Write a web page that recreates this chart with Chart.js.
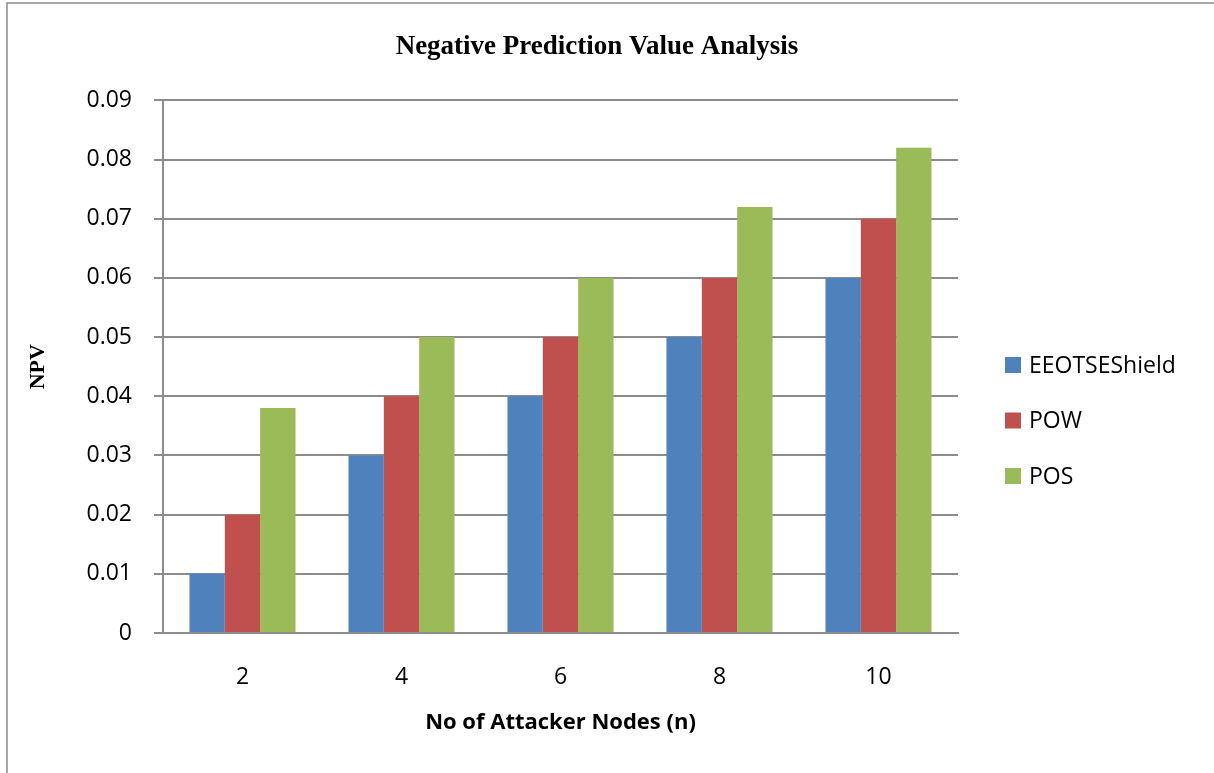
<!DOCTYPE html>
<html>
<head>
<meta charset="utf-8">
<script src="https://cdn.jsdelivr.net/npm/chart.js@4"></script>
<style>
  html, body { margin: 0; padding: 0; background: #fff; }
  #wrap { width: 1214px; height: 773px; }
</style>
</head>
<body>
<div id="wrap"><canvas id="npvChart" width="1214" height="773"></canvas></div>
<script>
var categories = ['2', '4', '6', '8', '10'];
var seriesNames = ['EEOTSEShield', 'POW', 'POS'];
var eeotseShield = [0.01, 0.03, 0.04, 0.05, 0.06];
var pow = [0.02, 0.04, 0.05, 0.06, 0.07];
var pos = [0.038, 0.05, 0.06, 0.072, 0.082];
var yTicks = [0, 0.01, 0.02, 0.03, 0.04, 0.05, 0.06, 0.07, 0.08, 0.09];

var colors = ['#4F81BD', '#C0504D', '#9BBB59'];
var sans = '"Open Sans", sans-serif';
var serif = '"Liberation Serif", "Times New Roman", serif';

// frame + white background
var framePlugin = {
    id: 'frame',
    beforeDraw: function(chart) {
        var c = chart.ctx;
        c.save();
        c.fillStyle = '#fff';
        c.fillRect(0, 0, chart.width, chart.height);
        c.strokeStyle = '#8c8c8c';
        c.lineWidth = 1.5;
        c.beginPath();
        c.moveTo(7, chart.height);
        c.lineTo(7, 3);
        c.lineTo(chart.width, 3);
        c.stroke();
        c.restore();
    }
};

// legend drawn on the right, like the excel one
var sideLegend = {
    id: 'sideLegend',
    afterDraw: function(chart) {
        var c = chart.ctx;
        c.save();
        c.font = '23px ' + sans;
        c.textBaseline = 'middle';
        c.textAlign = 'left';
        chart.data.datasets.forEach(function(ds, i) {
            var y = 365 + i * 55.5;
            c.fillStyle = ds.backgroundColor;
            c.fillRect(1005, y - 8, 16, 16);
            c.fillStyle = '#000';
            c.fillText(ds.label, 1029, y + 1);
        });
        c.restore();
    }
};

var ctx = document.getElementById('npvChart').getContext('2d');
var npvChart = new Chart(ctx, {
    type: 'bar',
    data: {
        labels: categories,
        datasets: [
            { label: seriesNames[0], data: eeotseShield, backgroundColor: colors[0] },
            { label: seriesNames[1], data: pow, backgroundColor: colors[1] },
            { label: seriesNames[2], data: pos, backgroundColor: colors[2] }
        ]
    },
    options: {
        responsive: false,
        animation: false,
        layout: { padding: { left: 0, right: 20, top: 0, bottom: 0 } },
        datasets: {
            bar: { categoryPercentage: 0.667, barPercentage: 1.0 }
        },
        plugins: {
            legend: { display: false },
            tooltip: { enabled: false },
            title: {
                display: true,
                text: 'Negative Prediction Value Analysis',
                color: '#000',
                font: { family: serif, size: 27, weight: 'bold' },
                padding: { top: 31, bottom: 37 }
            }
        },
        scales: {
            x: {
                grid: { display: false, drawTicks: false },
                border: { display: true, color: '#8c8c8c', width: 2 },
                ticks: { color: '#000', font: { family: sans, size: 23 }, padding: 31 },
                title: {
                    display: true,
                    text: 'No of Attacker Nodes (n)',
                    color: '#000',
                    font: { family: sans, size: 22, weight: 'bold' },
                    padding: { top: 0, bottom: 37 }
                },
                afterFit: function(scale) { scale.height = 140; }
            },
            y: {
                min: 0,
                max: 0.09,
                afterBuildTicks: function(scale) {
                    scale.ticks = yTicks.map(function(v) { return { value: v }; });
                },
                grid: { color: '#8c8c8c', lineWidth: 2, tickLength: 9 },
                border: { display: true, color: '#8c8c8c', width: 2 },
                ticks: {
                    color: '#000',
                    font: { family: sans, size: 23 },
                    padding: 22,
                    callback: function(v) { return v === 0 ? '0' : v.toFixed(2); }
                },
                title: {
                    display: true,
                    text: 'NPV',
                    color: '#000',
                    font: { family: serif, size: 22, weight: 'bold' },
                    padding: { top: 25, bottom: 0 }
                },
                afterFit: function(scale) { scale.width = 163; }
            },
            // empty axis that only keeps room for the legend on the right
            legendSpace: {
                type: 'linear',
                position: 'right',
                grid: { display: false, drawTicks: false },
                border: { display: false },
                ticks: { display: false },
                afterFit: function(scale) { scale.width = 236; }
            }
        }
    },
    plugins: [framePlugin, sideLegend]
});
</script>
</body>
</html>
